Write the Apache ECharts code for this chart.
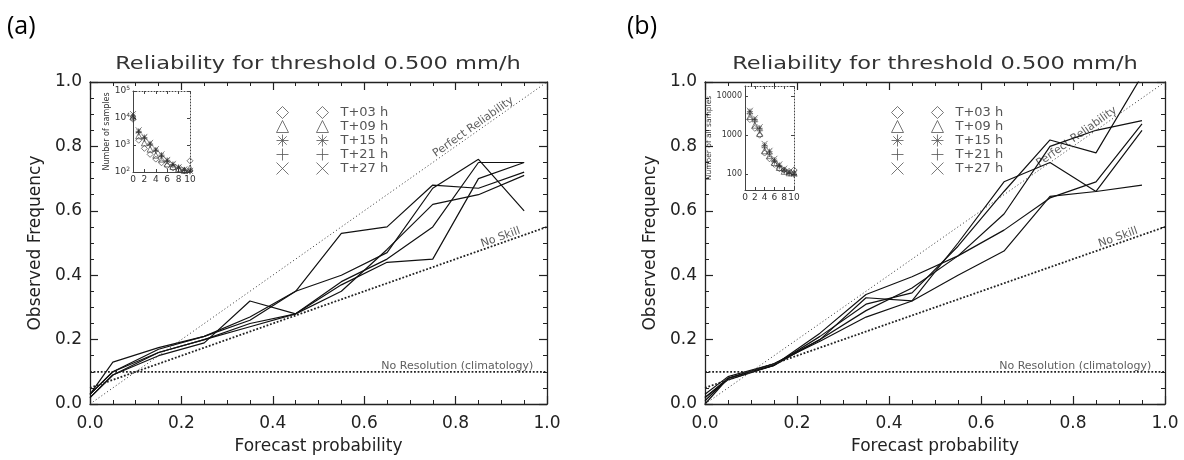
<!DOCTYPE html>
<html><head><meta charset="utf-8">
<script src="https://cdn.jsdelivr.net/npm/echarts@6/dist/echarts.min.js"></script>
<style>html,body{margin:0;padding:0;background:#fff}#c{width:1184px;height:460px}</style>
</head><body><div id="c"></div>
<script>
// ---------------- data ----------------
const titleText = 'Reliability for threshold 0.500 mm/h';
const bins = [0, 0.05, 0.15, 0.25, 0.35, 0.45, 0.55, 0.65, 0.75, 0.85, 0.95];
const leadNames = ['T+03 h', 'T+09 h', 'T+15 h', 'T+21 h', 'T+27 h'];
const axisTicks = [0, 0.2, 0.4, 0.6, 0.8, 1.0];

// panel (a) observed frequency per bin, one row per lead time
const relA_T03 = [0.03, 0.13, 0.175, 0.21, 0.26, 0.35, 0.53, 0.55, 0.68, 0.67, 0.72];
const relA_T09 = [0.02, 0.09, 0.15, 0.19, 0.32, 0.28, 0.38, 0.45, 0.55, 0.75, 0.75];
const relA_T15 = [0.03, 0.10, 0.17, 0.21, 0.27, 0.35, 0.40, 0.47, 0.67, 0.76, 0.60];
const relA_T21 = [0.02, 0.09, 0.16, 0.20, 0.25, 0.28, 0.37, 0.44, 0.45, 0.70, 0.75];
const relA_T27 = [0.03, 0.10, 0.16, 0.20, 0.24, 0.28, 0.35, 0.48, 0.62, 0.65, 0.71];

// panel (b)
const relB_T03 = [0.02, 0.08, 0.12, 0.20, 0.33, 0.32, 0.50, 0.69, 0.75, 0.66, 0.68];
const relB_T09 = [0.01, 0.08, 0.12, 0.21, 0.31, 0.345, 0.49, 0.66, 0.82, 0.78, 1.02];
const relB_T15 = [0.03, 0.085, 0.125, 0.20, 0.29, 0.36, 0.46, 0.59, 0.80, 0.85, 0.88];
const relB_T21 = [0.02, 0.075, 0.12, 0.22, 0.34, 0.395, 0.46, 0.54, 0.64, 0.69, 0.87];
const relB_T27 = [0.00, 0.08, 0.125, 0.195, 0.27, 0.32, 0.40, 0.475, 0.645, 0.66, 0.85];

// reference lines
const perfectLine = [[0, 0], [1, 1]];
const noSkillA = [[0, 0.05], [1, 0.55]];
const noResA = [[0, 0.1], [1, 0.1]];
const noSkillB = [[0, 0.05], [1, 0.55]];
const noResB = [[0, 0.1], [1, 0.1]];

// inset: number of samples per probability bin (0..10)
const insetX = [0, 1, 2, 3, 4, 5, 6, 7, 8, 9, 10];
const cntA_T03 = [9000, 1500, 750, 450, 300, 220, 170, 140, 120, 110, 260];
const cntA_T09 = [11000, 2200, 1200, 700, 420, 300, 200, 160, 130, 115, 140];
const cntA_T15 = [12000, 3200, 1900, 1100, 650, 420, 270, 190, 150, 120, 110];
const cntA_T21 = [10000, 2900, 1700, 1000, 600, 380, 250, 180, 140, 115, 105];
const cntA_T27 = [14000, 3500, 2000, 1200, 700, 450, 280, 200, 150, 125, 110];

const cntB_T03 = [null, 2500, 1500, 1000, 350, 250, 180, 140, 130, 120, 130];
const cntB_T09 = [null, 3000, 1800, 1100, 400, 300, 200, 150, 120, 110, 110];
const cntB_T15 = [null, 4000, 2500, 1500, 550, 380, 230, 170, 130, 110, 100];
const cntB_T21 = [null, 3500, 2200, 1300, 480, 330, 210, 160, 120, 105, 100];
const cntB_T27 = [null, 4200, 2700, 1600, 600, 400, 250, 180, 140, 115, 105];

// ---------------- build ----------------
const relA = [relA_T03, relA_T09, relA_T15, relA_T21, relA_T27];
const relB = [relB_T03, relB_T09, relB_T15, relB_T21, relB_T27];
const cntA = [cntA_T03, cntA_T09, cntA_T15, cntA_T21, cntA_T27];
const cntB = [cntB_T03, cntB_T09, cntB_T15, cntB_T21, cntB_T27];

const FONT = 'DejaVu Sans';
const AX = '#222';
const GRAY = '#444';

const symbolPaths = [
  'path://M5,0L10,5L5,10L0,5Z',
  'path://M5,0L10,10L0,10Z',
  'path://M5,0L5,10M0,5L10,5M1.5,1.5L8.5,8.5M8.5,1.5L1.5,8.5',
  'path://M5,0L5,10M0,5L10,5',
  'path://M0,0L10,10M10,0L0,10'
];
const legendIcons = [
  'path://M5,0L10,5L5,10L0,5Z M38.3,0L43.3,5L38.3,10L33.3,5Z',
  'path://M5,0L10,10L0,10Z M38.3,0L43.3,10L33.3,10Z',
  'path://M5,0L5,10M0,5L10,5M1.5,1.5L8.5,8.5M8.5,1.5L1.5,8.5 M38.3,0L38.3,10M33.3,5L43.3,5M34.8,1.5L41.8,8.5M41.8,1.5L34.8,8.5',
  'path://M5,0L5,10M0,5L10,5 M38.3,0L38.3,10M33.3,5L43.3,5',
  'path://M0,0L10,10M10,0L0,10 M33.3,0L43.3,10M43.3,0L33.3,10'
];

const mainGrids = [
  {left: 90, top: 82, width: 457, height: 324},
  {left: 705, top: 82, width: 460, height: 324}
];
const insetGrids = [
  {left: 133, top: 91, width: 57, height: 81},
  {left: 745, top: 86, width: 49, height: 104}
];

const fmt1 = v => v.toFixed(1);
function mainAxis(dim, gi, primary) {
  const o = {
    type: 'value', gridIndex: gi, min: 0, max: 1, interval: 0.2,
    position: dim === 'x' ? (primary ? 'bottom' : 'top') : (primary ? 'left' : 'right'),
    axisLine: {show: true, onZero: false, lineStyle: {color: AX, width: 1.3}},
    axisTick: {show: true, inside: true, length: 8, lineStyle: {color: AX, width: 1.2}},
    minorTick: {show: true, splitNumber: 4, length: 4, lineStyle: {color: AX, width: 1}},
    splitLine: {show: false},
    axisLabel: primary ? {show: true, formatter: fmt1, fontSize: 17, color: '#222', fontFamily: FONT, margin: dim === 'x' ? 11 : 8,
      customValues: axisTicks} : {show: false}
  };
  if (primary) {
    o.name = dim === 'x' ? 'Forecast probability' : 'Observed Frequency';
    o.nameLocation = 'middle';
    o.nameGap = dim === 'x' ? 34 : 46;
    o.nameTextStyle = {fontSize: 17, color: '#222', fontFamily: FONT};
  }
  return o;
}
function insetX_(gi, primary) {
  return {
    type: 'value', gridIndex: gi, min: 0, max: 10, interval: 2, position: primary ? 'bottom' : 'top',
    axisLine: {show: true, onZero: false, lineStyle: {color: GRAY, width: 1, type: primary ? 'solid' : [1, 2]}},
    axisTick: {show: true, inside: true, length: 3, lineStyle: {color: GRAY, width: 1}},
    splitLine: {show: false},
    axisLabel: primary ? {show: true, fontSize: 9, color: '#333', fontFamily: FONT, margin: 3} : {show: false}
  };
}
function insetY_(gi, primary, mn, mx, sup, name) {
  return {
    type: 'log', logBase: 10, gridIndex: gi, min: mn, max: mx, position: primary ? 'left' : 'right',
    axisLine: {show: true, onZero: false, lineStyle: {color: GRAY, width: 1, type: primary ? 'solid' : [1, 2]}},
    axisTick: {show: true, inside: true, length: 3, lineStyle: {color: GRAY, width: 1}},
    splitLine: {show: false},
    axisLabel: primary ? {
      show: true, fontSize: sup ? 9 : 8, color: '#333', fontFamily: FONT, margin: 3,
      showMinLabel: sup, showMaxLabel: sup,
      formatter: sup ? (v => '10{s|' + Math.round(Math.log10(v)) + '}') : (v => String(Math.round(v))),
      rich: {s: {fontSize: 6, padding: [0, 0, 6, 0], fontFamily: FONT, color: '#333'}}
    } : {show: false},
    name: primary ? name : '',
    nameLocation: 'middle', nameGap: sup ? 20 : 30,
    nameTextStyle: {fontSize: sup ? 8 : 7.5, color: '#333', fontFamily: FONT}
  };
}

const xAxes = [
  mainAxis('x', 0, true), mainAxis('x', 0, false),
  mainAxis('x', 1, true), mainAxis('x', 1, false),
  insetX_(2, true), insetX_(2, false),
  insetX_(3, true), insetX_(3, false)
];
const yAxes = [
  mainAxis('y', 0, true), mainAxis('y', 0, false),
  mainAxis('y', 1, true), mainAxis('y', 1, false),
  insetY_(2, true, 100, 100000, true, 'Number of samples'), insetY_(2, false, 100, 100000, true, ''),
  insetY_(3, true, 40, 18000, false, 'Number of all samples'), insetY_(3, false, 40, 18000, false, '')
];

const series = [];
function addPanel(rel, noSkill, noRes, axIdx, perfStart, skillStart) {
  rel.forEach(vals => series.push({
    type: 'line', xAxisIndex: axIdx, yAxisIndex: axIdx, symbol: 'none', silent: true,
    lineStyle: {color: '#111', width: 1.2}, data: bins.map((x, i) => [x, vals[i]]), z: 3
  }));
  series.push({type: 'line', xAxisIndex: axIdx, yAxisIndex: axIdx, symbol: 'none', silent: true,
    lineStyle: {color: '#333', width: 1, type: [1, 2.5]}, data: perfectLine});
  series.push({type: 'line', xAxisIndex: axIdx, yAxisIndex: axIdx, symbol: 'none', silent: true,
    lineStyle: {color: '#222', width: 1.8, type: [1.8, 1.8]}, data: noSkill});
  series.push({type: 'line', xAxisIndex: axIdx, yAxisIndex: axIdx, symbol: 'none', silent: true,
    lineStyle: {color: '#222', width: 1.8, type: [1.8, 1.8]}, data: noRes});
  const lab = (txt, rot, align) => ({show: true, formatter: txt, position: 'inside', rotate: rot, align: align,
    verticalAlign: 'bottom', fontSize: 11, color: '#333', fontFamily: FONT});
  const ns0 = noSkill[0][1], ns1 = noSkill[1][1];
  series.push({type: 'scatter', xAxisIndex: axIdx, yAxisIndex: axIdx, symbolSize: 0.1, silent: true,
    itemStyle: {color: 'rgba(0,0,0,0)'},
    data: [
      {value: [perfStart, perfStart], label: lab('Perfect Reliability', 35.3, 'left')},
      {value: [skillStart, ns0 + (ns1 - ns0) * skillStart], label: lab('No Skill', 19.5, 'left')},
      {value: [0.97, noRes[0][1]], label: lab('No Resolution (climatology)', 0, 'right')}
    ]});
}
addPanel(relA, noSkillA, noResA, 0, 0.76, 0.86);
addPanel(relB, noSkillB, noResB, 2, 0.73, 0.86);

function addInset(cnt, axIdx) {
  cnt.forEach((vals, i) => series.push({
    type: 'scatter', name: leadNames[i], xAxisIndex: axIdx, yAxisIndex: axIdx,
    symbol: symbolPaths[i], symbolSize: 6, silent: true, z: 5,
    itemStyle: {color: 'rgba(0,0,0,0)', borderColor: '#333', borderWidth: 0.8},
    data: insetX.map((x, j) => [x, vals[j]]).filter(d => d[1] != null)
  }));
}
addInset(cntA, 4);
addInset(cntB, 6);

function legendFor(left, top) {
  return {
    orient: 'vertical', left: left, top: top, itemWidth: 52, itemHeight: 12, itemGap: 1,
    selectedMode: false, padding: 0,
    data: leadNames.map((n, i) => ({name: n, icon: legendIcons[i]})),
    itemStyle: {color: 'rgba(0,0,0,0)', borderColor: '#555', borderWidth: 1},
    textStyle: {fontSize: 13, color: '#555', fontFamily: FONT, padding: [0, 0, 0, 7], lineHeight: 12}
  };
}

const option = {
  animation: false,
  backgroundColor: '#fff',
  textStyle: {fontFamily: FONT},
  grid: [...mainGrids, ...insetGrids].map(g => Object.assign({containLabel: false}, g)),
  xAxis: xAxes,
  yAxis: yAxes,
  legend: [legendFor(276, 106), legendFor(891, 106)],
  graphic: [
    {type: 'text', x: 7, y: 27, style: {text: '(a)', fontSize: 25, fontFamily: 'Open Sans', fill: '#000', verticalAlign: 'middle'}},
    {type: 'text', x: 627, y: 27, style: {text: '(b)', fontSize: 25, fontFamily: 'Open Sans', fill: '#000', verticalAlign: 'middle'}},
    {type: 'text', x: 318, y: 64, scaleX: 1.25, style: {text: titleText, fontSize: 18, fontFamily: FONT, fill: '#333', align: 'center', verticalAlign: 'middle'}},
    {type: 'text', x: 935, y: 64, scaleX: 1.25, style: {text: titleText, fontSize: 18, fontFamily: FONT, fill: '#333', align: 'center', verticalAlign: 'middle'}}
  ],
  series: series
};
const chart = echarts.init(document.getElementById('c'));
chart.setOption(option);
</script></body></html>
